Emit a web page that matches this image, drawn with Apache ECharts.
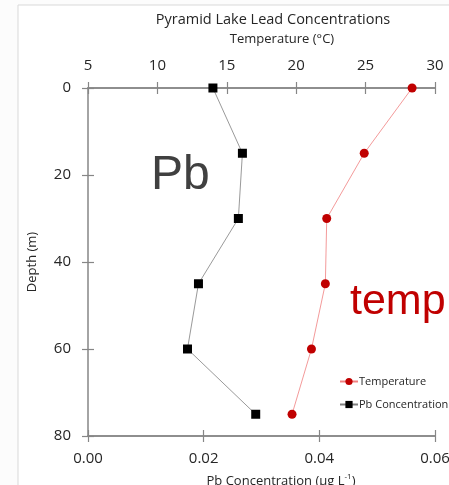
<!DOCTYPE html>
<html><head><meta charset="utf-8">
<script src="https://cdn.jsdelivr.net/npm/echarts@6/dist/echarts.min.js"></script>
<style>html,body{margin:0;padding:0;background:#fcfcfc}#c{width:449px;height:485px}</style>
</head><body><div id="c"></div>
<script>
const depths = [0, 15, 30, 45, 60, 75];
const pbConc = [0.0216, 0.0267, 0.0260, 0.0191, 0.0172, 0.0290];
const temperature = [28.35, 24.9, 22.2, 22.1, 21.1, 19.7];
const tempTicks = [5, 10, 15, 20, 25, 30];
const pbTicks = [0, 0.02, 0.04, 0.06];
const depthTicks = [0, 20, 40, 60, 80];

const FONT = 'Open Sans';
const axisCol = '#868686';
const txt = '#262626';

const chart = echarts.init(document.getElementById('c'), null, {renderer: 'canvas'});
const pbData = depths.map((d, i) => [pbConc[i], d]);
const tData = depths.map((d, i) => [temperature[i], d]);

function xa(pos, min, max, interval, inside, show, fmt, margin) {
  return {
    type: 'value', position: pos, min, max, interval,
    axisLine: {show: true, onZero: false, lineStyle: {color: axisCol, width: 1.5}},
    axisTick: {show: true, inside, length: 6, lineStyle: {color: axisCol, width: 1.2}},
    axisLabel: {show, color: txt, fontFamily: FONT, fontSize: 15, margin: margin || 8, formatter: fmt},
    splitLine: {show: false}
  };
}

chart.setOption({
  backgroundColor: '#fcfcfc',
  animation: false,
  grid: {left: 88, right: 14, top: 88, bottom: 49, containLabel: false, outerBoundsMode: 'none'},
  xAxis: [
    xa('bottom', 0, 0.06, 0.02, false, true, v => v.toFixed(2), 15),
    xa('top', 5, 30, 5, false, true, v => String(v), 15),
    xa('bottom', 0, 0.06, 0.02, true, false),
    xa('top', 5, 30, 5, true, false)
  ],
  yAxis: [
    {type: 'value', inverse: true, min: 0, max: 80, interval: 20, position: 'left',
     axisLine: {show: true, onZero: false, lineStyle: {color: axisCol, width: 1.5}},
     axisTick: {show: true, length: 6, lineStyle: {color: axisCol, width: 1.2}},
     axisLabel: {color: txt, fontFamily: FONT, fontSize: 15, margin: 17},
     splitLine: {show: false}},
    {type: 'value', inverse: true, min: 0, max: 80, interval: 20, position: 'left',
     axisLine: {show: false},
     axisTick: {show: true, inside: true, length: 6, lineStyle: {color: axisCol, width: 1.2}},
     axisLabel: {show: false}, splitLine: {show: false}}
  ],
  legend: {
    orient: 'vertical', left: 339, top: 376, padding: 0, itemGap: 12, itemWidth: 18, itemHeight: 9,
    textStyle: {fontFamily: FONT, fontSize: 11, color: txt, padding: [0, 0, 0, -4]},
    data: ['Temperature', 'Pb Concentration']
  },
  series: [
    {name: 'Pb Concentration', type: 'line', xAxisIndex: 0, yAxisIndex: 0, data: pbData,
     symbol: 'rect', symbolSize: 9, itemStyle: {color: '#000000'},
     lineStyle: {color: '#7f7f7f', width: 0.8}},
    {name: 'Temperature', type: 'line', xAxisIndex: 1, yAxisIndex: 0, data: tData,
     symbol: 'circle', symbolSize: 9, itemStyle: {color: '#c00000'},
     lineStyle: {color: '#f08080', width: 0.8}}
  ],
  graphic: [
    {type: 'rect', shape: {x: 18, y: 5, width: 460, height: 500}, style: {fill: '#ffffff', stroke: '#d9d9d9', lineWidth: 1}, z: -10, silent: true},
    {type: 'text', x: 273, y: 20, style: {text: 'Pyramid Lake Lead Concentrations', fontFamily: FONT, fontSize: 14.5, fill: txt, align: 'center', verticalAlign: 'middle'}},
    {type: 'text', x: 282, y: 39, style: {text: 'Temperature (°C)', fontFamily: FONT, fontSize: 13, fill: txt, align: 'center', verticalAlign: 'middle'}},
    {type: 'text', x: 151, y: 176, style: {text: 'Pb', fontFamily: 'Liberation Sans', fontSize: 48, fill: '#404040', align: 'left', verticalAlign: 'middle'}},
    {type: 'text', x: 350, y: 302, style: {text: 'temp', fontFamily: 'Liberation Sans', fontSize: 43, fill: '#c00000', align: 'left', verticalAlign: 'middle'}},
    {type: 'text', rotation: Math.PI / 2, x: 32, y: 262, style: {text: 'Depth (m)', fontFamily: FONT, fontSize: 13, fill: txt, align: 'center', verticalAlign: 'middle'}},
    {type: 'text', x: 281, y: 481, style: {
      text: 'Pb Concentration (μg L{s|-1})', fontFamily: FONT, fontSize: 13, fill: txt, align: 'center', verticalAlign: 'middle',
      rich: {s: {fontFamily: FONT, fontSize: 8, fill: txt, verticalAlign: 'top', padding: [0, 0, 8, 0]}}}}
  ]
});
</script></body></html>
